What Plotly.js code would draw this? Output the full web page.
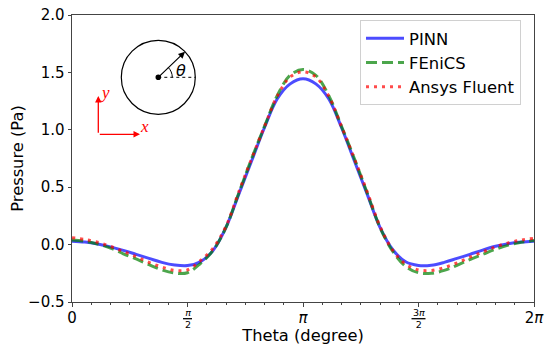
<!DOCTYPE html>
<html>
<head>
<meta charset="utf-8">
<script src="https://cdn.plot.ly/plotly-3.0.1.min.js"></script>
<style>html,body{margin:0;padding:0;background:#fff;}#chart{width:545px;height:345px;}</style>
</head>
<body>
<div id="chart"></div>
<script>
// Angle in degrees (axis labelled in radians)
const theta = [0,10,20,30,40,50,60,70,80,90,100,110,120,130,140,150,160,170,180,
               190,200,210,220,230,240,250,260,270,280,290,300,310,320,330,340,350,360];
const pinn = [0.030,0.022,0.005,-0.020,-0.050,-0.085,-0.120,-0.155,-0.178,-0.183,-0.150,-0.050,0.150,0.440,0.730,1.020,1.270,1.400,1.445,
              1.400,1.270,1.020,0.730,0.440,0.150,-0.045,-0.150,-0.182,-0.180,-0.155,-0.120,-0.085,-0.048,-0.015,0.008,0.022,0.030];
const fenics = [0.040,0.030,0.005,-0.030,-0.080,-0.125,-0.175,-0.220,-0.248,-0.245,-0.165,-0.050,0.150,0.450,0.750,1.030,1.300,1.475,1.525,
                1.475,1.300,1.030,0.750,0.450,0.150,-0.060,-0.190,-0.245,-0.250,-0.225,-0.180,-0.130,-0.085,-0.040,-0.005,0.020,0.035];
const fluent = [0.060,0.045,0.020,-0.015,-0.060,-0.105,-0.155,-0.195,-0.225,-0.220,-0.140,-0.030,0.160,0.460,0.750,1.030,1.295,1.460,1.505,
                1.460,1.295,1.030,0.750,0.460,0.160,-0.050,-0.170,-0.220,-0.225,-0.200,-0.160,-0.110,-0.065,-0.020,0.015,0.040,0.055];
const seriesNames = ['PINN','FEniCS','Ansys Fluent'];
const xTickVals = [0,90,180,270,360];
const xTickText = ['0','','<i>π</i>','','2<i>π</i>'];
const yTickVals = [-0.5,0,0.5,1.0,1.5,2.0];

const FONT = 'DejaVu Sans, sans-serif';
const traces = [
  {x: theta, y: pinn, name: seriesNames[0], mode: 'lines', legendgroup: 'a',
   line: {color: 'rgba(0,0,255,0.7)', width: 3, shape: 'spline', smoothing: 1}},
  {x: theta, y: fenics, name: seriesNames[1], mode: 'lines', legendgroup: 'b',
   line: {color: 'rgba(0,128,0,0.7)', width: 3, dash: '11px,5px', shape: 'spline', smoothing: 1}},
  {x: theta, y: fluent, name: seriesNames[2], mode: 'lines', legendgroup: 'c',
   line: {color: 'rgba(255,0,0,0.7)', width: 3, dash: '3px,5px', shape: 'spline', smoothing: 1}}
];

// pixel -> paper helpers for the inset sketch
const L = 72, R = 534, T = 15, B = 302;
const px = v => (v - L) / (R - L);
const py = v => (B - v) / (B - T);
const cx = 158.3, cy = 77.3, rad = 37;

const layout = {
  width: 545, height: 345,
  margin: {l: 72, r: 11, t: 15, b: 43},
  paper_bgcolor: '#fff', plot_bgcolor: '#fff',
  font: {family: FONT, size: 15, color: '#000'},
  showlegend: true,
  legend: {x: px(360), y: py(20), xanchor: 'left', yanchor: 'top', itemwidth: 38,
           bgcolor: 'rgba(255,255,255,0.9)', bordercolor: '#d0d0d0', borderwidth: 1,
           font: {family: FONT, size: 16.4, color: '#000'}, traceorder: 'normal'},
  xaxis: {range: [0, 360], tickmode: 'array', tickvals: xTickVals, ticktext: xTickText,
          showgrid: false, zeroline: false, showline: true, mirror: true, linecolor: '#444', linewidth: 1,
          ticks: 'outside', ticklen: 3.5, tickcolor: '#444', ticklabelstandoff: -2,
          tickfont: {family: FONT, size: 15},
          minor: {tickmode: 'linear', tick0: 0, dtick: 15, ticks: 'outside', ticklen: 2, tickcolor: '#444', showgrid: false},
          title: {text: 'Theta (degree)', font: {family: FONT, size: 16.3}, standoff: 5}},
  yaxis: {range: [-0.5, 2.0], tickmode: 'array', tickvals: yTickVals, tickformat: '.1f',
          showgrid: false, zeroline: false, showline: true, mirror: true, linecolor: '#444', linewidth: 1,
          ticks: 'outside', ticklen: 3.5, tickcolor: '#444', ticklabelstandoff: 0,
          tickfont: {family: FONT, size: 15},
          title: {text: 'Pressure (Pa)', font: {family: FONT, size: 16.3}, standoff: 0}},
  shapes: [
    // fraction bars of tick labels
    {type: 'line', xref: 'paper', yref: 'paper', x0: px(L + 0.25*(R-L) - 4.5), x1: px(L + 0.25*(R-L) + 4.5), y0: py(318.7), y1: py(318.7), line: {color: '#000', width: 1.3}},
    {type: 'line', xref: 'paper', yref: 'paper', x0: px(L + 0.75*(R-L) - 7), x1: px(L + 0.75*(R-L) + 7), y0: py(318.7), y1: py(318.7), line: {color: '#000', width: 1.3}},
    // inset circle
    {type: 'circle', xref: 'paper', yref: 'paper', xsizemode: 'pixel', ysizemode: 'pixel',
     xanchor: px(cx), yanchor: py(cy), x0: -rad, x1: rad, y0: -rad, y1: rad, line: {color: '#000', width: 1.2}},
    {type: 'circle', xref: 'paper', yref: 'paper', xsizemode: 'pixel', ysizemode: 'pixel',
     xanchor: px(cx), yanchor: py(cy), x0: -2.8, x1: 2.8, y0: -2.8, y1: 2.8, fillcolor: '#000', line: {color: '#000', width: 0}},
    {type: 'line', xref: 'paper', yref: 'paper', x0: px(cx), x1: px(cx + rad), y0: py(cy), y1: py(cy), line: {color: '#000', width: 1, dash: 'dot'}},
    {type: 'path', xref: 'paper', yref: 'paper', xsizemode: 'pixel', ysizemode: 'pixel', xanchor: px(cx), yanchor: py(cy),
     path: 'M14,0 C14,3.71 12.52,7.27 9.9,9.9', line: {color: '#000', width: 1}}
  ],
  annotations: [
    {xref: 'x', yref: 'paper', x: 90, y: 0, xanchor: 'center', yanchor: 'middle', yshift: -16.5, showarrow: false,
     text: '<i>π</i><br>2', font: {family: FONT, size: 9.5}},
    {xref: 'x', yref: 'paper', x: 270, y: 0, xanchor: 'center', yanchor: 'middle', yshift: -16.5, showarrow: false,
     text: '3<i>π</i><br>2', font: {family: FONT, size: 9.5}},
    // inset arrow radius
    {xref: 'paper', yref: 'paper', x: px(185), y: py(51.7), ax: cx - 185, ay: 77.3 - 51.7,
     showarrow: true, arrowhead: 2, arrowsize: 1.1, arrowwidth: 1.2, arrowcolor: '#000', text: ''},
    {xref: 'paper', yref: 'paper', x: px(180.5), y: py(70), xanchor: 'center', yanchor: 'middle', showarrow: false, text: '<i>θ</i>',
     font: {family: FONT, size: 16, color: '#000'}},
    // red axes
    {xref: 'paper', yref: 'paper', x: px(98.3), y: py(96), ax: 0, ay: 38.3, showarrow: true,
     arrowhead: 2, arrowsize: 1, arrowwidth: 1.3, arrowcolor: '#ff0000', text: ''},
    {xref: 'paper', yref: 'paper', x: px(140), y: py(134.3), ax: -41.7, ay: 0, showarrow: true,
     arrowhead: 2, arrowsize: 1, arrowwidth: 1.3, arrowcolor: '#ff0000', text: ''},
    {xref: 'paper', yref: 'paper', x: px(105), y: py(92), xanchor: 'center', yanchor: 'middle', showarrow: false, text: '<i>y</i>',
     font: {family: 'Liberation Serif, DejaVu Serif, serif', size: 17, color: '#ff0000'}},
    {xref: 'paper', yref: 'paper', x: px(144), y: py(126), xanchor: 'center', yanchor: 'middle', showarrow: false, text: '<i>x</i>',
     font: {family: 'Liberation Serif, DejaVu Serif, serif', size: 17, color: '#ff0000'}}
  ]
};

Plotly.newPlot('chart', traces, layout, {displayModeBar: false, staticPlot: true});
</script>
</body>
</html>
